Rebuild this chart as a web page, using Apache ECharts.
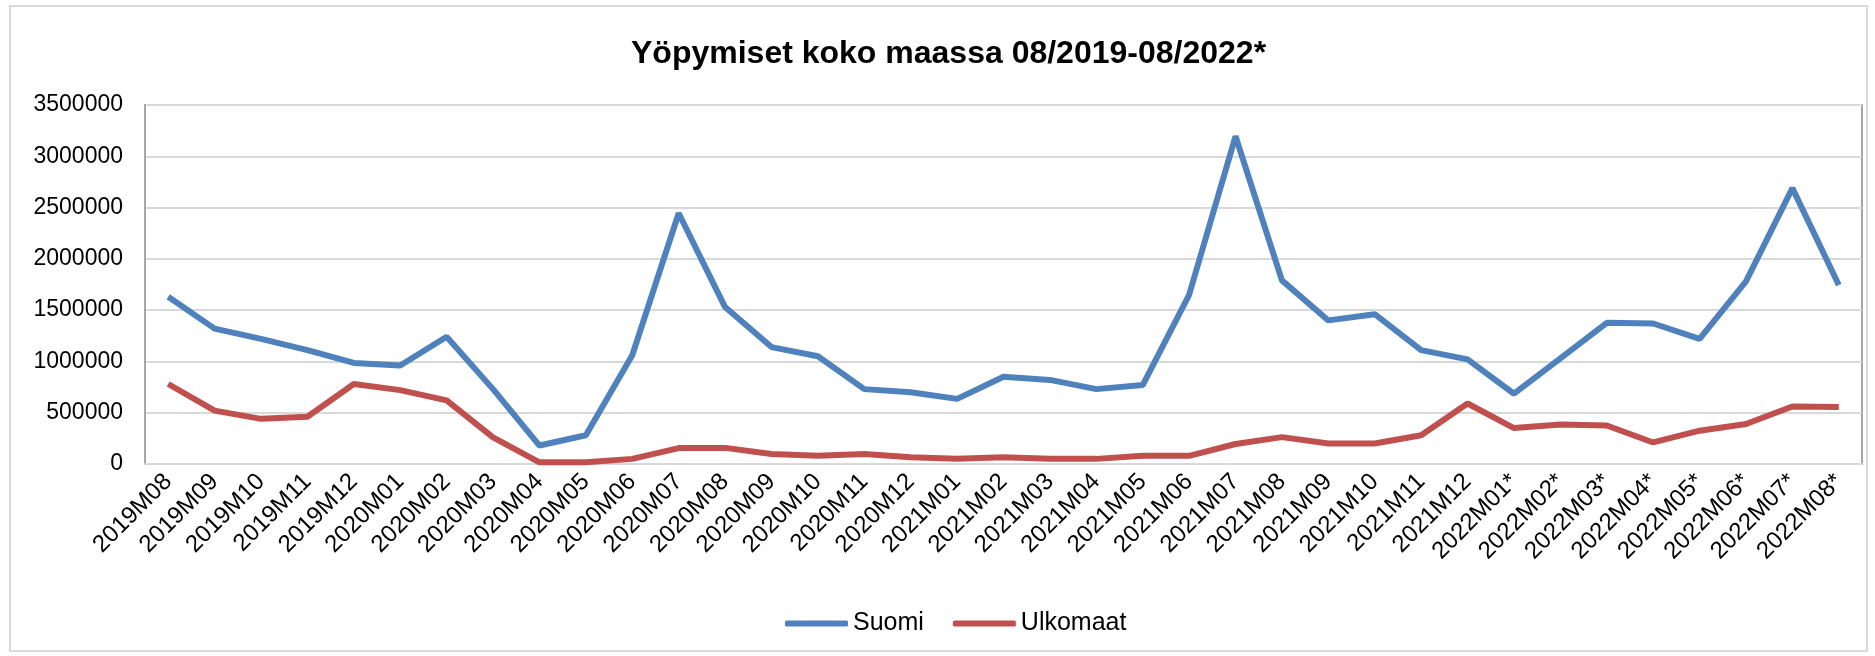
<!DOCTYPE html>
<html lang="fi">
<head>
    <meta charset="UTF-8">
    <title>Yöpymiset koko maassa</title>
    <style>
        html, body { margin: 0; padding: 0; background: #fff; }
        #main { width: 1875px; height: 656px; }
    </style>
</head>
<body>
<div id="main"></div>

<script src="https://cdn.jsdelivr.net/npm/echarts@6/dist/echarts.min.js"></script>
<script>
    var months = ['2019M08', '2019M09', '2019M10', '2019M11', '2019M12',
        '2020M01', '2020M02', '2020M03', '2020M04', '2020M05', '2020M06',
        '2020M07', '2020M08', '2020M09', '2020M10', '2020M11', '2020M12',
        '2021M01', '2021M02', '2021M03', '2021M04', '2021M05', '2021M06',
        '2021M07', '2021M08', '2021M09', '2021M10', '2021M11', '2021M12',
        '2022M01*', '2022M02*', '2022M03*', '2022M04*', '2022M05*',
        '2022M06*', '2022M07*', '2022M08*'];

    // kotimaiset yöpymiset
    var suomi = [1630000, 1320000, 1220000, 1110000, 985000,
        960000, 1240000, 730000, 180000, 280000, 1060000,
        2445000, 1530000, 1140000, 1050000, 730000, 700000,
        635000, 850000, 820000, 730000, 770000, 1650000,
        3195000, 1790000, 1400000, 1460000, 1110000, 1020000,
        685000, 1030000, 1376000, 1370000, 1220000,
        1780000, 2690000, 1745000];

    // ulkomaiset yöpymiset
    var ulkomaat = [780000, 520000, 440000, 460000, 780000,
        720000, 620000, 260000, 16000, 16000, 50000,
        155000, 157000, 98000, 80000, 98000, 65000,
        50000, 65000, 50000, 50000, 80000, 80000,
        195000, 262000, 200000, 200000, 280000, 590000,
        350000, 385000, 375000, 210000, 325000,
        390000, 560000, 555000];

    var yTicks = [0, 500000, 1000000, 1500000, 2000000, 2500000, 3000000, 3500000];

    var font = '"Liberation Sans", Arial, sans-serif';

    var chart = echarts.init(document.getElementById('main'));

    chart.setOption({
        animation: false,
        textStyle: { fontFamily: font },
        title: {
            text: 'Yöpymiset koko maassa 08/2019-08/2022*',
            left: 626,
            top: 33,
            textStyle: { fontSize: 32, fontWeight: 'bold', color: '#000', fontFamily: font }
        },
        graphic: [{
            type: 'rect',
            shape: { x: 10, y: 6, width: 1857, height: 645 },
            style: { fill: 'none', stroke: '#d9d9d9', lineWidth: 2 },
            silent: true
        }],
        legend: {
            left: 780,
            top: 606,
            icon: 'roundRect',
            itemWidth: 63,
            itemHeight: 6,
            itemGap: 29,
            textStyle: { fontSize: 25, color: '#000', fontFamily: font },
            data: ['Suomi', 'Ulkomaat']
        },
        grid: {
            left: 145,
            right: 13,
            top: 105,
            bottom: 192,
            show: true,
            borderColor: '#a6a6a6',
            borderWidth: 2
        },
        xAxis: {
            type: 'category',
            data: months,
            boundaryGap: true,
            axisLine: { lineStyle: { color: '#d9d9d9', width: 2 } },
            axisTick: { show: false },
            axisLabel: {
                rotate: 45,
                interval: 0,
                margin: 14,
                fontSize: 24,
                color: '#000',
                fontFamily: font
            }
        },
        yAxis: {
            type: 'value',
            min: yTicks[0],
            max: yTicks[yTicks.length - 1],
            interval: 500000,
            axisLine: { show: true, lineStyle: { color: '#a6a6a6', width: 2 } },
            axisTick: { show: false },
            splitLine: { lineStyle: { color: '#d9d9d9', width: 2 } },
            axisLabel: {
                margin: 22,
                fontSize: 23,
                color: '#000',
                fontFamily: font,
                formatter: function (v) { return String(v); }
            }
        },
        series: [{
            name: 'Suomi',
            type: 'line',
            data: suomi,
            symbol: 'none',
            lineStyle: { color: '#4f81bd', width: 6 },
            itemStyle: { color: '#4f81bd' }
        }, {
            name: 'Ulkomaat',
            type: 'line',
            data: ulkomaat,
            symbol: 'none',
            lineStyle: { color: '#c0504d', width: 6 },
            itemStyle: { color: '#c0504d' }
        }]
    });
</script>
</body>
</html>
